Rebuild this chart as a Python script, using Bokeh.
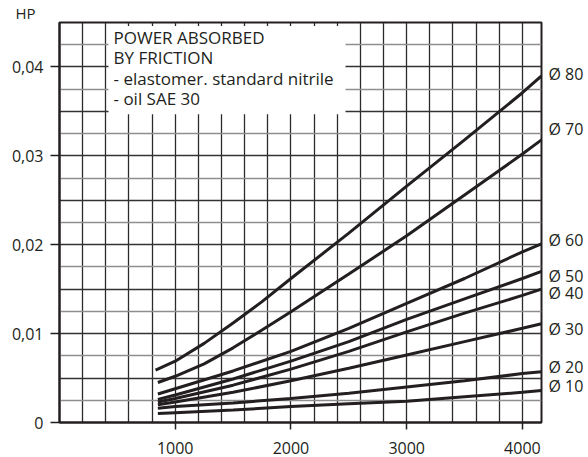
from bokeh.plotting import figure
from bokeh.models import FixedTicker, Label, BoxAnnotation, Range1d, LinearAxis
from bokeh.embed import file_html
from bokeh.resources import INLINE

# ---------------- data ----------------
x_ticks = [1000, 2000, 3000, 4000]
y_ticks = [0, 0.01, 0.02, 0.03, 0.04]
y_tick_labels = ["0", "0,01", "0,02", "0,03", "0,04"]
y_unit = "HP"

note_lines = ["POWER ABSORBED", "BY FRICTION",
              "- elastomer. standard nitrile", "- oil SAE 30"]

series_names = ["Ø 80", "Ø 70", "Ø 60", "Ø 50", "Ø 40", "Ø 30", "Ø 20", "Ø 10"]

rpm_80 = [830, 1000, 1250, 1500, 1750, 2000, 2500, 3000, 3500, 4000, 4165]
hp_80 = [0.0059, 0.0069, 0.0089, 0.0112, 0.0136, 0.0162, 0.0213, 0.0266, 0.0318, 0.0371, 0.0390]

rpm_70 = [850, 1000, 1250, 1500, 1750, 2000, 2500, 3000, 3500, 4000, 4165]
hp_70 = [0.0045, 0.0052, 0.0066, 0.0084, 0.0104, 0.01245, 0.0167, 0.0210, 0.0256, 0.0302, 0.0318]

rpm_std = [850, 1000, 1500, 2000, 2500, 3000, 3500, 4000, 4165]
hp_60 = [0.0032, 0.0038, 0.0058, 0.0080, 0.0106, 0.0134, 0.0162, 0.0192, 0.0201]
hp_50 = [0.0026, 0.0031, 0.0049, 0.0069, 0.0091, 0.0116, 0.0139, 0.0162, 0.0170]
hp_40 = [0.0023, 0.0027, 0.0042, 0.0060, 0.0080, 0.0102, 0.0123, 0.0143, 0.0150]
hp_30 = [0.0020, 0.0023, 0.0034, 0.0047, 0.0061, 0.0076, 0.0091, 0.0106, 0.0111]
hp_20 = [0.0016, 0.0018, 0.0022, 0.0027, 0.0033, 0.0040, 0.0047, 0.0055, 0.0057]
hp_10 = [0.0010, 0.0011, 0.0014, 0.0018, 0.0021, 0.0024, 0.0029, 0.0034, 0.0036]

series_x = [rpm_80, rpm_70, rpm_std, rpm_std, rpm_std, rpm_std, rpm_std, rpm_std]
series_y = [hp_80, hp_70, hp_60, hp_50, hp_40, hp_30, hp_20, hp_10]

# ---------------- layout / style ----------------
W, H = 588, 457
FL, FT = 59, 16         # left / top borders
FW, FH = 482, 406       # frame size
X_END, Y_END = 4165, 0.045
INK = "#231f20"
FONT = "Open Sans"

def sx(px):  # canvas pixel -> data x (annotation placement only)
    return (px - FL) / FW * X_END

def sy(py):  # canvas pixel -> data y (annotation placement only)
    return (FT + FH - py) / FH * Y_END

p = figure(width=W, height=H,
           x_range=Range1d(0, X_END), y_range=Range1d(0, Y_END),
           min_border_left=FL, min_border_top=FT,
           min_border_right=W - FL - FW, min_border_bottom=H - FT - FH,
           output_backend="svg", toolbar_location=None)

p.background_fill_color = "white"
p.border_fill_color = "white"
p.outline_line_color = INK
p.outline_line_width = 2

# unit label "HP" as a left-aligned title shifted over the tick labels
p.title.text = y_unit
p.title.align = "left"
p.title.offset = 15 - FL
p.title.standoff = 0
p.title.text_font = FONT
p.title.text_font_size = "15px"
p.title.text_font_style = "normal"
p.title.text_color = INK

# grids
p.xgrid.ticker = FixedTicker(ticks=list(range(200, 4200, 200)))
p.xgrid.grid_line_color = "#2a2a2a"
p.xgrid.grid_line_width = 1.3
p.ygrid.ticker = FixedTicker(ticks=[0.005 * i for i in range(1, 9)],
                             minor_ticks=[0.0025 + 0.005 * i for i in range(9)])
p.ygrid.grid_line_color = "#333333"
p.ygrid.grid_line_width = 1.6
p.ygrid.minor_grid_line_color = "#8e8e8e"
p.ygrid.minor_grid_line_width = 1.5

# axes
p.xaxis.ticker = FixedTicker(ticks=x_ticks)
p.yaxis.ticker = FixedTicker(ticks=y_ticks)
p.yaxis.major_label_overrides = dict(zip(y_ticks, y_tick_labels))
for ax in (p.xaxis, p.yaxis):
    ax.axis_line_color = INK
    ax.axis_line_width = 2
    ax.major_tick_line_color = INK
    ax.major_tick_line_width = 1.5
    ax.major_tick_in = 0
    ax.minor_tick_line_color = None
    ax.major_label_text_font = FONT
    ax.major_label_text_font_size = "16px"
    ax.major_label_text_color = INK
p.xaxis.major_tick_out = 7
p.xaxis.major_label_standoff = 12
p.yaxis.major_tick_out = 9
p.yaxis.major_label_standoff = 7

# curves
for xs, ys in zip(series_x, series_y):
    p.line(xs, ys, line_color=INK, line_width=3)

# series labels on a right-hand axis
label_offsets = [0.0002, 0.0012, 0.0004, -0.0005, -0.0004, -0.0006, 0.0005, 0.0005]
label_y = [ys[-1] + off for ys, off in zip(series_y, label_offsets)]
right = LinearAxis(ticker=FixedTicker(ticks=label_y),
                   major_label_overrides=dict(zip(label_y, series_names)),
                   axis_line_color=None, major_tick_line_color=None,
                   minor_tick_line_color=None, major_tick_in=0, major_tick_out=0,
                   major_label_standoff=7, major_label_text_font=FONT,
                   major_label_text_font_size="16px", major_label_text_color=INK)
p.add_layout(right, "right")

# white note box
p.add_layout(BoxAnnotation(left=sx(108), right=sx(345), bottom=sy(109), top=sy(19.5),
                           fill_color="white", fill_alpha=1, line_color=None))
for i, t in enumerate(note_lines):
    p.add_layout(Label(x=sx(113), y=sy(31 + 20.8 * i), text=t,
                       text_font=FONT, text_font_size="17px", text_color=INK,
                       text_baseline="middle", text_align="left"))

open("out.html", "w").write(file_html(p, INLINE))
